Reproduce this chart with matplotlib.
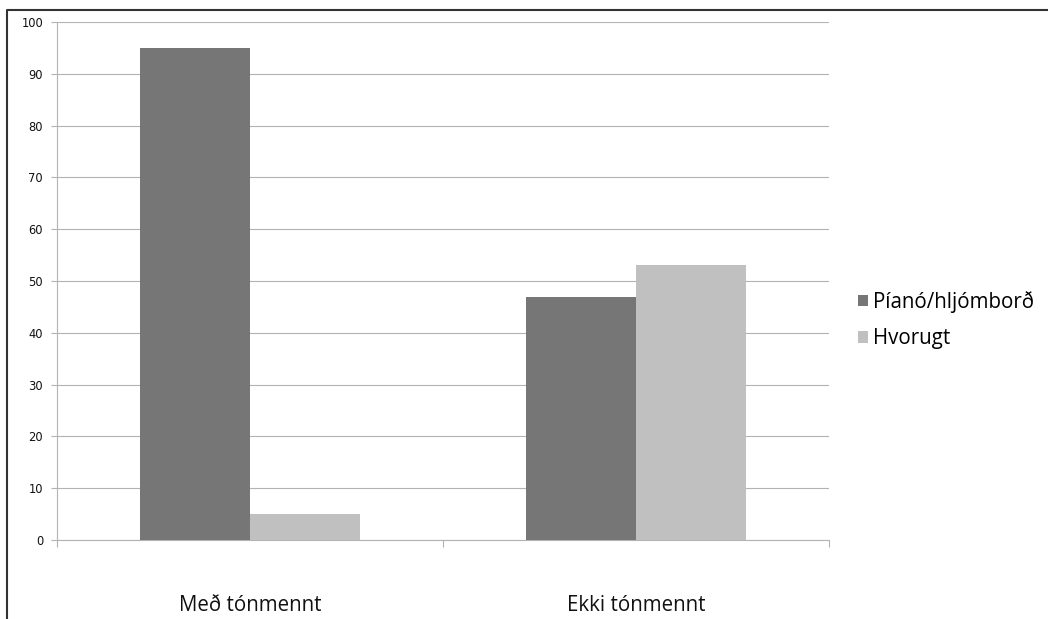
import matplotlib
matplotlib.use('Agg')
import matplotlib.pyplot as plt
import matplotlib.lines as mlines
import numpy as np

categories = ['Með tónmennt', 'Ekki tónmennt']
series_names = ['Píanó/hljómborð', 'Hvorugt']
piano = [95, 47]
hvorugt = [5, 53]
yticks = [0, 10, 20, 30, 40, 50, 60, 70, 80, 90, 100]

colors = ['#767676', '#c0c0c0']
grid_color = '#b3b3b3'
W, H = 1048, 619

fig = plt.figure(figsize=(W / 100, H / 100), dpi=100)
ax = fig.add_axes([57 / W, (H - 540) / H, (829 - 57) / W, (540 - 22) / H])

x = np.arange(len(categories))
w = 1 / 3.5
ax.bar(x - w / 2, piano, w, color=colors[0], label=series_names[0], zorder=3)
ax.bar(x + w / 2, hvorugt, w, color=colors[1], label=series_names[1], zorder=3)

ax.set_xlim(-0.5, len(categories) - 0.5)
ax.set_ylim(0, 100)
ax.set_yticks(yticks)
ax.yaxis.grid(True, color=grid_color, linewidth=0.8, zorder=0)
ax.tick_params(axis='y', length=4, width=0.8, color=grid_color, pad=6,
               labelsize=8.3, labelcolor='#111111')

# tick marks at category boundaries, labels below
ax.set_xticks(np.arange(-0.5, len(categories)), minor=True)
ax.set_xticks([])
ax.tick_params(axis='x', which='minor', length=5, width=0.8, color=grid_color)
for i, c in enumerate(categories):
    ax.text(i, -0.1255, c, transform=ax.get_xaxis_transform(), ha='center', va='center',
            fontsize=14.8, family='Open Sans', color='#111111')

for s in ['top', 'right']:
    ax.spines[s].set_visible(False)
for s in ['left', 'bottom']:
    ax.spines[s].set_color(grid_color)
    ax.spines[s].set_linewidth(0.8)

ax.legend(loc='center left', bbox_to_anchor=(839 / W, (H - 320) / H),
          bbox_transform=fig.transFigure, frameon=False, handlelength=0.5,
          handleheight=0.5, handletextpad=0.25, labelspacing=0.75,
          prop={'family': 'Open Sans', 'size': 14.8})

# outer border (left and top)
fig.add_artist(mlines.Line2D([7 / W, 7 / W, 1], [0, (H - 10) / H, (H - 10) / H],
                             transform=fig.transFigure, color='#333333', linewidth=1.5))

fig.savefig('out.png', dpi=100)
